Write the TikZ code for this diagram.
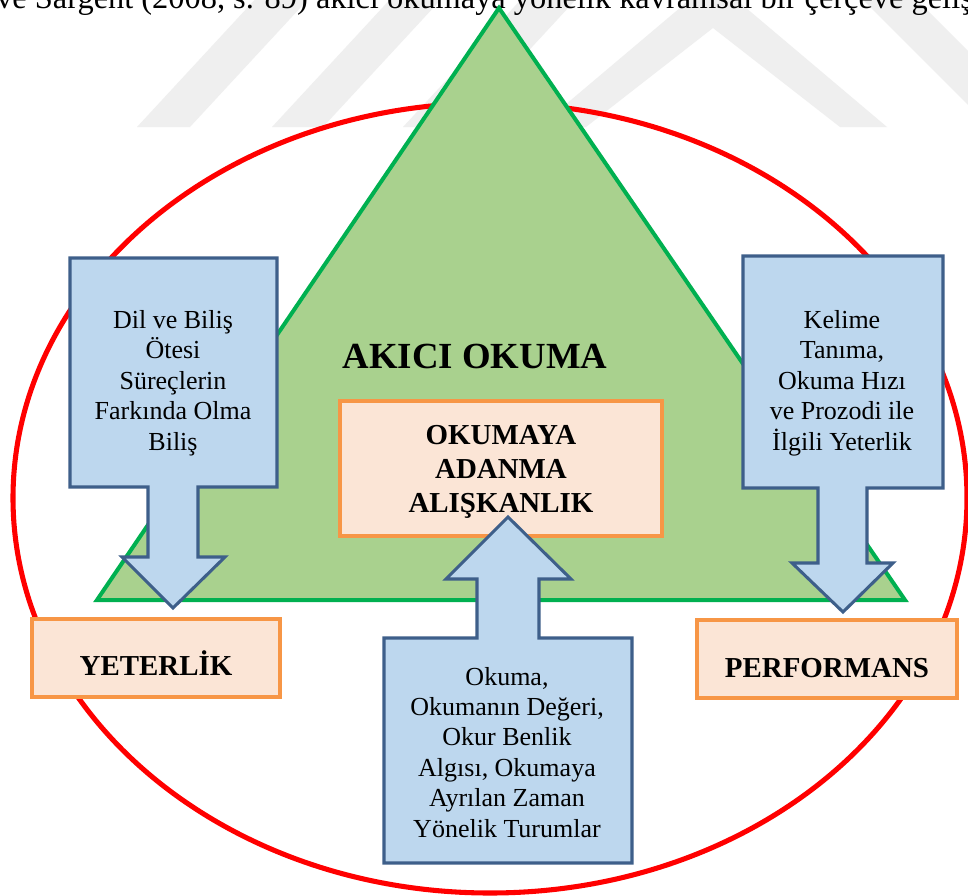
\documentclass[tikz,border=0pt]{standalone}
\usepackage{fontspec}
\setmainfont{Liberation Serif}
\definecolor{wmgray}{HTML}{EFEFEF}
\definecolor{ringred}{HTML}{FF0000}
\definecolor{trifill}{HTML}{A9D18E}
\definecolor{triline}{HTML}{00B050}
\definecolor{arrowfill}{HTML}{BDD7EE}
\definecolor{arrowline}{HTML}{3E5F8A}
\definecolor{boxfill}{HTML}{FBE5D6}
\definecolor{boxline}{HTML}{F79646}
\begin{document}
\begin{tikzpicture}[x=0.75pt,y=-0.75pt,
  wm/.style={fill=wmgray,draw=none},
  bodytext/.style={font=\fontsize{19.5}{22.8}\selectfont, align=center, inner sep=0pt, anchor=base},
  headtext/.style={font=\fontsize{21.7}{25.5}\selectfont\bfseries, align=center, inner sep=0pt, anchor=base},
  bluearrow/.style={fill=arrowfill, draw=arrowline, line width=2.3pt, line join=miter},
  obox/.style={fill=boxfill, draw=boxline, line width=3.4pt},
  ring/.style={draw=ringred, line width=3.8pt},
  pyramid/.style={fill=trifill, draw=triline, line width=3pt, line join=miter}]
\useasboundingbox (0,0) rectangle (968,896);
\clip (0,0) rectangle (968,896);
\fill[white] (0,0) rectangle (968,896);

% faint background watermark bands
\fill[wm] (137,127) -- (190,127) -- (326,-20) -- (273,-20) -- cycle;
\fill[wm] (272,127) -- (323,127) -- (459,-20) -- (408,-20) -- cycle;
\fill[wm] (403,127) -- (458,127) -- (594,-20) -- (539,-20) -- cycle;
\fill[wm] (713,-20) -- (887,127) -- (840,127) -- (713,28) -- (586,127) -- (539,127) -- cycle;
\fill[wm] (843,-20) -- (897,-20) -- (1044,127) -- (990,127) -- cycle;

% running text line above the figure
\node[anchor=base west, inner sep=0pt, font=\fontsize{24.3}{28}\selectfont] (caption)
  at (-4,8) {ve Sargent (2008, s. 89) akıcı okumaya yönelik kavramsal bir çerçeve geliştirmiştir.};

% outer ring
\draw[ring] (490,498) ellipse [x radius=477, y radius=395];

% central pyramid
\draw[pyramid] (499,8) -- (905,600) -- (97,600) -- cycle;
\node[inner sep=0pt, anchor=base, font=\fontsize{27.6}{32}\selectfont\bfseries] (akici)
  at (475,368) {AKICI OKUMA};

% commitment box in the pyramid (base anchor sits on the last line)
\draw[obox] (340,401) rectangle (662,536);
\node[headtext] (adanma) at (501,512) {OKUMAYA\\ADANMA\\ALIŞKANLIK};

% left callout arrow
\draw[bluearrow] (70,258) -- (277,258) -- (277,487) -- (198,487) -- (198,557) -- (225,557)
  -- (173,608) -- (122,557) -- (148,557) -- (148,487) -- (70,487) -- cycle;
\node[bodytext] (bilis) at (173,450)
  {Dil ve Biliş\\Ötesi\\Süreçlerin\\Farkında Olma\\Biliş};

% right callout arrow
\draw[bluearrow] (743,256) -- (943,256) -- (943,488) -- (867,488) -- (867,563) -- (893,563)
  -- (843,612) -- (792,563) -- (818,563) -- (818,488) -- (743,488) -- cycle;
\node[bodytext] (kelime) at (842,450)
  {Kelime\\Tanıma,\\Okuma Hızı\\ve Prozodi ile\\İlgili Yeterlik};

% bottom callout arrow pointing up
\draw[bluearrow] (384,638) -- (477,638) -- (477,579) -- (446,579) -- (508,517) -- (571,579)
  -- (539,579) -- (539,638) -- (632,638) -- (632,863) -- (384,863) -- cycle;
\node[bodytext] (tutum) at (507,837)
  {Okuma,\\Okumanın Değeri,\\Okur Benlik\\Algısı, Okumaya\\Ayrılan Zaman\\Yönelik Turumlar};

% outcome boxes
\draw[obox] (32,619) rectangle (280,697);
\node[headtext] (yeterlik) at (156,675) {YETERLİK};
\draw[obox] (697,620) rectangle (957,698);
\node[headtext] (performans) at (827,677) {PERFORMANS};
\end{tikzpicture}
\end{document}
